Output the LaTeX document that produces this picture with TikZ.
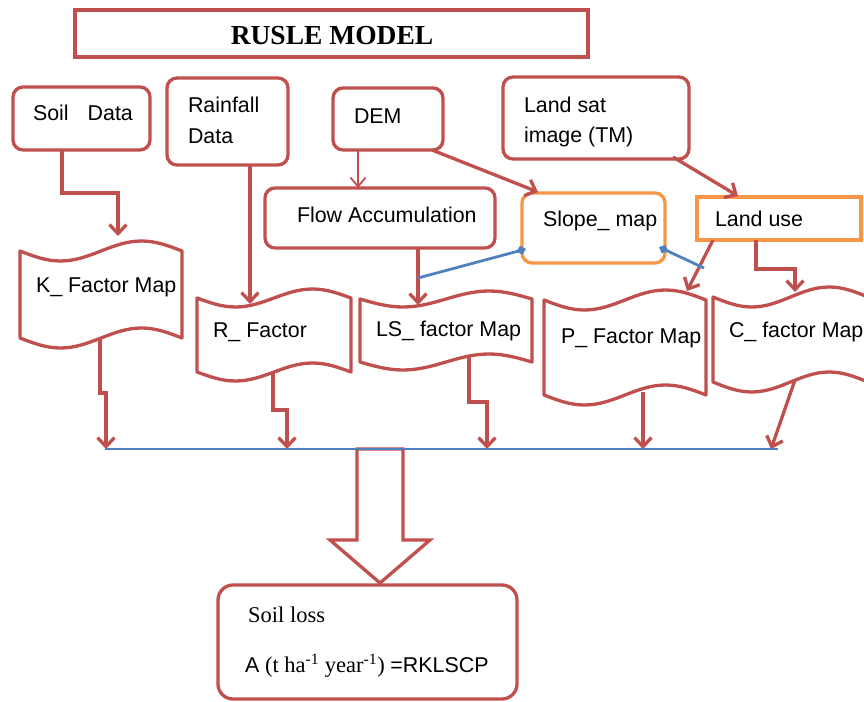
\documentclass[tikz,border=0pt]{standalone}
\usepackage{fontspec}
\setmainfont{Liberation Serif}
\newfontfamily\arialf{Liberation Sans}
\usetikzlibrary{arrows.meta,calc}
\definecolor{bred}{HTML}{C0504D}
\definecolor{borange}{HTML}{F79646}
\definecolor{bblue}{HTML}{4F81BD}
\tikzset{
 rbox/.style={draw=bred, line width=3.3pt, rounded corners=10pt, inner sep=0pt, outer sep=0pt},
 sbox/.style={draw=bred, line width=3.3pt, inner sep=0pt, outer sep=0pt},
 orbox/.style={draw=borange, line width=3.3pt, rounded corners=10pt, inner sep=0pt, outer sep=0pt},
 osbox/.style={draw=borange, line width=3.3pt, inner sep=0pt, outer sep=0pt},
 ghost/.style={inner sep=0pt, outer sep=0pt},
 lbl/.style={inner sep=0pt, outer sep=0pt, anchor=base west, font=\arialf\fontsize{21.4}{31}\selectfont},
 arr/.style={draw=bred, line width=3.3pt, -{Straight Barb[length=9pt,width=17pt]}},
 thinarr/.style={draw=bred, line width=1.8pt, -{Straight Barb[length=9pt,width=15pt]}},
 bline/.style={draw=bblue, line width=2.8pt},
 tapeline/.style={draw=bred, line width=3.3pt, line join=round},
}
\newcommand\tapeshape[6]{% name x0 x1 topmean botmean amp
  \draw[tapeline] (#2,#4) sin ({(3*#2+#3)/4},{#4+#6}) cos ({(#2+#3)/2},#4)
     sin ({(#2+3*#3)/4},{#4-#6}) cos (#3,#4) -- (#3,#5)
     sin ({(#2+3*#3)/4},{#5-#6}) cos ({(#2+#3)/2},#5)
     sin ({(3*#2+#3)/4},{#5+#6}) cos (#2,#5) -- cycle;
  \node[ghost, minimum width={(#3-#2)*1pt}, minimum height={(#5-#4+2*#6)*1pt}] (#1) at ({(#2+#3)/2},{(#4+#5)/2}) {};
}
\begin{document}
\begin{tikzpicture}[x=1pt,y=-1pt]
\useasboundingbox (0,0) rectangle (864,701);
\clip (0,0) rectangle (864,701);
% title
\node[sbox, minimum width=513pt, minimum height=47pt] (title) at (331.5,33.5) {};
\node[inner sep=0pt, anchor=base, font=\fontsize{27.5}{30}\selectfont\bfseries] (ttitle) at (332,45) {RUSLE MODEL};
% input boxes
\node[rbox, minimum width=137pt, minimum height=63pt] (soil) at (81.5,118.5) {};
\node[lbl] (tsoil) at (33,120) {Soil\hspace{19pt}Data};
\node[rbox, minimum width=121pt, minimum height=87pt] (rain) at (227.5,121.5) {};
\node[lbl] (train1) at (188,112) {Rainfall};
\node[lbl] (train2) at (188,143) {Data};
\node[rbox, minimum width=110pt, minimum height=62pt] (dem) at (388,119) {};
\node[lbl] (tdem) at (354,123) {DEM};
\node[rbox, minimum width=230pt, minimum height=60pt] (flow) at (380,218) {};
\node[lbl] (tflow) at (297,222) {Flow Accumulation};
\node[rbox, minimum width=186pt, minimum height=82pt] (landsat) at (596,118) {};
\node[lbl] (tls1) at (524,112) {Land sat};
\node[lbl] (tls2) at (524,142) {image (TM)};
\node[orbox, minimum width=143pt, minimum height=70pt] (slope) at (593.5,228) {};
\node[lbl] (tslope) at (543,226) {Slope\_ map};
\node[osbox, minimum width=164pt, minimum height=43pt] (landuse) at (779,218.5) {};
\node[lbl] (tlanduse) at (715,226) {Land use};
% factor maps
\tapeshape{K}{20}{182}{251}{338}{10}
\node[lbl] (tK) at (36,292) {K\_ Factor Map};
\tapeshape{R}{197}{351}{298}{372}{9}
\node[lbl] (tR) at (213,337) {R\_ Factor};
\tapeshape{LS}{360}{532}{299}{362}{8}
\node[lbl] (tLS) at (376,336) {LS\_ factor Map};
\tapeshape{P}{544}{706}{300}{395}{10}
\node[lbl] (tP) at (561,343) {P\_ Factor Map};
\tapeshape{C}{713}{868}{297}{382}{10}
\node[lbl] (tC) at (729,337) {C\_ factor Map};
% result box
\node[rbox, rounded corners=15pt, minimum width=299pt, minimum height=114pt] (soilloss) at (367.5,642) {};
\node[inner sep=0pt, anchor=base west, font=\fontsize{22.5}{26}\selectfont] (tloss) at (248,622) {Soil loss};
\node[inner sep=0pt, anchor=base west, font=\fontsize{22.5}{26}\selectfont] (tform) at (245,672)
  {{\arialf\fontsize{21.4}{26}\selectfont A} (t ha\textsuperscript{-1} year\textsuperscript{-1}) {\arialf\fontsize{21.4}{26}\selectfont =RKLSCP}};
% connectors from inputs
\draw[arr] ($(soil.south)+(-19.5,0)$) -- ++(0,43) -- ++(56,0) -- ++(0,43);
\draw[arr] ($(rain.south)+(22.5,0)$) -- ++(0,139);
\draw[thinarr] ($(dem.south)+(-30,0)$) -- ($(flow.north)+(-22,0)$);
\draw[arr] ($(dem.south east)+(-11,0)$) -- ($(slope.north west)+(16,-1)$);
\draw[arr] ($(flow.south)+(38,0)$) -- ++(0,57);
\draw[arr] ($(landsat.south)+(77,-2)$) -- ($(landuse.north)+(-41,-1)$);
\draw[arr] ($(landuse.south)+(-66,0)$) -- ($(P.north)+(62,1)$);
\draw[arr] ($(landuse.south)+(-23,0)$) -- ++(0,29) -- ++(39,0) -- ++(0,23);
% blue links from slope map
\draw[bline, {Diamond[length=10pt,width=9pt]}-] ($(slope.south west)+(4,-14)$) -- ($(flow.south)+(38,30)$);
\draw[bline, {Diamond[length=10pt,width=9pt]}-] ($(slope.south east)+(-6,-16)$) -- ($(landuse.south)+(-75,28)$);
% bus
\coordinate (busL) at (105,449);
\coordinate (busR) at (778,449);
\draw[arr] ($(K.south)+(-1,-10)$) -- ++(0,55) -- ++(6,0) -- ($(busL)+(1,0)$);
\draw[arr] ($(R.south)+(-1,-9)$) -- ++(0,38) -- ++(14,0) -- ($(busL)+(182,0)$);
\draw[arr] ($(LS.south)+(23,-13)$) -- ++(0,45) -- ++(18,0) -- ($(busL)+(382,0)$);
\draw[arr] ($(P.south)+(18,-13)$) -- ($(busL)+(538,0)$);
\draw[arr] ($(C.south)+(4.5,-12)$) -- ($(busR)+(-7,0)$);
% big hollow arrow
\coordinate (tip) at ($(soilloss.north)+(12.5,-2)$);
\draw[bred, line width=3.3pt, line join=miter] ($(tip)+(-23,-134)$) -- ++(0,91) -- ++(-27,0) -- (tip) -- ++(50,-43) -- ++(-27,0) -- ++(0,-91) -- cycle;
\draw[bline] (busL) -- (busR);
\end{tikzpicture}
\end{document}
